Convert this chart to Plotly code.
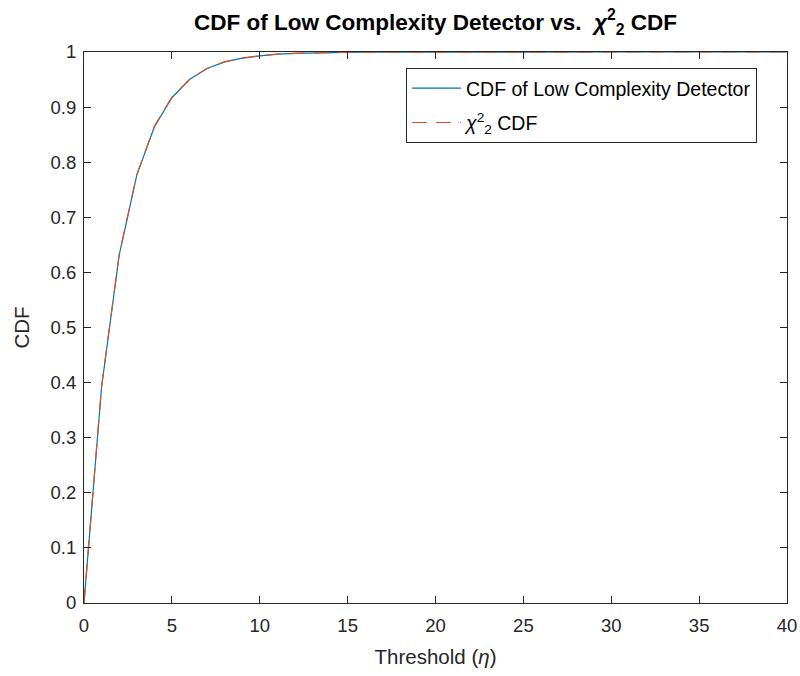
import plotly.graph_objects as go

thresholds = list(range(0, 41))
detector_cdf = [0.0, 0.392, 0.631, 0.776, 0.864, 0.917, 0.950, 0.970, 0.982, 0.989,
                0.993, 0.996, 0.9975, 0.9985, 0.9991, 0.9994, 0.9997, 0.9998, 0.9999, 0.9999,
                1.0, 1.0, 1.0, 1.0, 1.0, 1.0, 1.0, 1.0, 1.0, 1.0,
                1.0, 1.0, 1.0, 1.0, 1.0, 1.0, 1.0, 1.0, 1.0, 1.0, 1.0]
chi2_cdf = [0.0, 0.393, 0.632, 0.777, 0.865, 0.918, 0.950, 0.970, 0.982, 0.989,
            0.993, 0.996, 0.9975, 0.9985, 0.9991, 0.9994, 0.9997, 0.9998, 0.9999, 0.9999,
            1.0, 1.0, 1.0, 1.0, 1.0, 1.0, 1.0, 1.0, 1.0, 1.0,
            1.0, 1.0, 1.0, 1.0, 1.0, 1.0, 1.0, 1.0, 1.0, 1.0, 1.0]
x_ticks = [0, 5, 10, 15, 20, 25, 30, 35, 40]
y_ticks = [0, 0.1, 0.2, 0.3, 0.4, 0.5, 0.6, 0.7, 0.8, 0.9, 1]
y_tick_labels = ["0", "0.1", "0.2", "0.3", "0.4", "0.5", "0.6", "0.7", "0.8", "0.9", "1"]

FONT = "Liberation Sans, Arial, sans-serif"
AX = "#262626"

fig = go.Figure()
fig.add_trace(go.Scatter(x=thresholds, y=detector_cdf, mode="lines",
                         name="CDF of Low Complexity Detector", legendgroup="a",
                         line=dict(color="#0072BD", width=1.2)))
fig.add_trace(go.Scatter(x=thresholds, y=chi2_cdf, mode="lines",
                         name="<i>χ</i><sup>2</sup><sub>2</sub> CDF", legendgroup="b",
                         line=dict(color="#D95319", width=1.2, dash="15px,9px")))

axis_common = dict(showgrid=False, zeroline=False, showline=True, linecolor=AX, linewidth=1,
                   mirror="ticks", ticks="inside", ticklen=7, tickcolor=AX, tickwidth=1,
                   tickfont=dict(family=FONT, size=18.5, color=AX))

fig.update_layout(
    width=800, height=676,
    paper_bgcolor="white", plot_bgcolor="white",
    margin=dict(l=84, r=13, t=52, b=73, autoexpand=False),
    title=dict(text="<b>CDF of Low Complexity Detector vs.  <i>χ</i><sup>2</sup><sub>2</sub> CDF</b>",
               x=0.5, xanchor="center", xref="paper", y=1 - 22 / 676, yanchor="middle", yref="container",
               font=dict(family=FONT, size=22.5, color="black")),
    xaxis=dict(range=[0, 40], tickvals=x_ticks, ticktext=[str(v) for v in x_ticks],
               ticklabelstandoff=6,
               title=dict(text="Threshold (<i>η</i>)", font=dict(family=FONT, size=20.5, color=AX), standoff=14),
               **axis_common),
    yaxis=dict(range=[0, 1], tickvals=y_ticks, ticktext=y_tick_labels,
               ticklabelstandoff=3,
               title=dict(text="CDF", font=dict(family=FONT, size=20.5, color=AX), standoff=15),
               **axis_common),
    legend=dict(x=0.458, y=0.971, xanchor="left", yanchor="top",
                bgcolor="white", bordercolor=AX, borderwidth=1,
                font=dict(family=FONT, size=19.5, color="black"),
                tracegroupgap=6, itemwidth=49),
    showlegend=True,
)

fig.write_html("out.html", config={"displayModeBar": False},
               post_script="document.body.style.margin='0';")
